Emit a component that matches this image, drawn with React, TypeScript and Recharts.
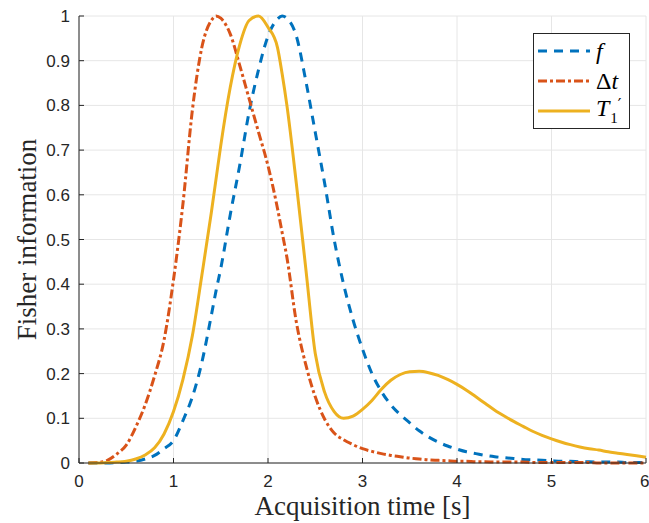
import React from "react";
import {
  LineChart,
  Line,
  XAxis,
  YAxis,
  CartesianGrid,
  Label,
} from "recharts";

// acquisition time [s]
const times = [
  0.1, 0.2, 0.3, 0.4, 0.5, 0.6, 0.7, 0.8, 0.9, 1.0,
  1.1, 1.2, 1.3, 1.4, 1.45, 1.5, 1.6, 1.7, 1.8, 1.9, 2.0,
  2.1, 2.15, 2.2, 2.3, 2.4, 2.5, 2.6, 2.7, 2.8, 2.9, 3.0,
  3.1, 3.2, 3.3, 3.4, 3.5, 3.6, 3.7, 3.8, 3.9, 4.0,
  4.1, 4.2, 4.3, 4.4, 4.5, 4.6, 4.7, 4.8, 4.9, 5.0,
  5.1, 5.2, 5.3, 5.4, 5.5, 5.6, 5.7, 5.8, 5.9, 6.0,
];

// normalised Fisher information, f
const fInfo = [
  0, 0, 0, 0.001, 0.002, 0.004, 0.009, 0.017, 0.032, 0.05,
  0.095, 0.148, 0.225, 0.33, 0.385, 0.435, 0.555, 0.665, 0.785, 0.88, 0.955,
  0.993, 1.0, 0.995, 0.955, 0.855, 0.74, 0.625, 0.5, 0.4, 0.32, 0.255,
  0.2, 0.16, 0.13, 0.108, 0.09, 0.072, 0.058, 0.047, 0.038, 0.031,
  0.025, 0.021, 0.017, 0.014, 0.012, 0.01, 0.008, 0.007, 0.006, 0.005,
  0.004, 0.004, 0.003, 0.003, 0.002, 0.002, 0.002, 0.001, 0.001, 0.001,
];

// Δt
const dtInfo = [
  0, 0.001, 0.006, 0.02, 0.04, 0.08, 0.13, 0.195, 0.275, 0.41,
  0.58, 0.79, 0.93, 0.99, 1.0, 0.995, 0.96, 0.89, 0.815, 0.74, 0.665,
  0.57, 0.515, 0.46, 0.315, 0.22, 0.148, 0.098, 0.067, 0.052, 0.041, 0.032,
  0.026, 0.021, 0.017, 0.014, 0.011, 0.009, 0.007, 0.006, 0.005, 0.004,
  0.004, 0.003, 0.003, 0.002, 0.002, 0.002, 0.002, 0.001, 0.001, 0.001,
  0.001, 0.001, 0.001, 0.001, 0, 0, 0, 0, 0, 0,
];

// T1'
const t1Info = [
  0, 0, 0.001, 0.002, 0.004, 0.009, 0.018, 0.034, 0.065, 0.115,
  0.187, 0.285, 0.42, 0.56, 0.635, 0.71, 0.84, 0.935, 0.99, 1.0, 0.975,
  0.93, 0.87, 0.8, 0.625, 0.435, 0.245, 0.158, 0.115, 0.1, 0.105, 0.12,
  0.14, 0.165, 0.185, 0.198, 0.204, 0.205, 0.202, 0.196, 0.187, 0.176,
  0.163, 0.148, 0.133, 0.118, 0.105, 0.093, 0.082, 0.071, 0.062, 0.054,
  0.047, 0.041, 0.036, 0.032, 0.029, 0.025, 0.022, 0.019, 0.016, 0.013,
];

const xTicks = [0, 1, 2, 3, 4, 5, 6];
const yTicks = [0, 0.1, 0.2, 0.3, 0.4, 0.5, 0.6, 0.7, 0.8, 0.9, 1];

const data = times.map((t, i) => ({
  t,
  f: fInfo[i],
  dt: dtInfo[i],
  t1: t1Info[i],
}));

const BLUE = "#0072BD";
const RED = "#D95319";
const YELLOW = "#EDB120";
const AXIS = "#262626";
const tickFont = { fill: AXIS, fontSize: 17, fontFamily: "Liberation Sans, Arial, sans-serif" };
const labelFont = { fill: AXIS, fontSize: 27, fontFamily: "Liberation Serif, serif" };

function LegendBox() {
  const row = (dash: string | undefined, color: string, label: React.ReactNode) => (
    <div style={{ display: "flex", alignItems: "center", height: 30 }}>
      <svg width={58} height={10}>
        <line x1={4} y1={5} x2={56} y2={5} stroke={color} strokeWidth={3} strokeDasharray={dash} />
      </svg>
      <span style={{ marginLeft: 4, fontFamily: "Liberation Serif, serif", fontSize: 24, color: "#000", lineHeight: "24px", position: "relative" }}>
        {label}
      </span>
    </div>
  );
  return (
    <div
      style={{
        position: "absolute",
        left: 533,
        top: 33,
        border: `1.5px solid ${AXIS}`,
        background: "#fff",
        width: 97,
        padding: "2px 0 2px 0",
        boxSizing: "border-box",
      }}
    >
      {row("9 7", BLUE, <i>f</i>)}
      {row("9 3 3 3", RED, <span>Δ<i>t</i></span>)}
      {row(undefined, YELLOW, (
        <span style={{ position: "relative", top: -2 }}>
          <i>T</i>
          <span style={{ fontSize: 15, position: "relative", top: 7, marginLeft: 1 }}>1</span>
          <span style={{ fontSize: 16, fontFamily: "DejaVu Serif, serif", position: "relative", top: -6 }}>′</span>
        </span>
      ))}
    </div>
  );
}

export default function App() {
  return (
    <div style={{ position: "absolute", left: 0, top: 0, width: 649, height: 523, background: "#fff" }}>
      <LineChart
        width={649}
        height={523}
        data={data}
        margin={{ top: 16, right: 3, bottom: 0, left: 0 }}
      >
        <CartesianGrid stroke="#e6e6e6" strokeWidth={1} />
        <XAxis
          dataKey="t"
          type="number"
          domain={[0, 6]}
          ticks={xTicks}
          height={60}
          stroke={AXIS}
          tickSize={-5}
          tickMargin={17}
          tick={tickFont}
        >
          <Label value="Acquisition time [s]" position="insideBottom" offset={8} style={labelFont} />
        </XAxis>
        <XAxis
          xAxisId="top"
          orientation="top"
          type="number"
          domain={[0, 6]}
          ticks={xTicks}
          height={0}
          stroke={AXIS}
          tickSize={-5}
          tickFormatter={() => ""}
        />
        <YAxis
          type="number"
          domain={[0, 1]}
          ticks={yTicks}
          width={79}
          stroke={AXIS}
          tickSize={-5}
          tickMargin={14}
          tick={tickFont}
        >
          <Label
            value="Fisher information"
            angle={-90}
            position="insideLeft"
            offset={26}
            style={{ ...labelFont, textAnchor: "middle" }}
          />
        </YAxis>
        <YAxis
          yAxisId="right"
          orientation="right"
          type="number"
          domain={[0, 1]}
          ticks={yTicks}
          width={0}
          stroke={AXIS}
          tickSize={-5}
          tickFormatter={() => ""}
        />
        <Line type="monotone" dataKey="f" stroke={BLUE} strokeWidth={3} strokeDasharray="9 7" dot={false} isAnimationActive={false} />
        <Line type="monotone" dataKey="dt" stroke={RED} strokeWidth={3} strokeDasharray="9 3 3 3" dot={false} isAnimationActive={false} />
        <Line type="monotone" dataKey="t1" stroke={YELLOW} strokeWidth={3} dot={false} isAnimationActive={false} />
      </LineChart>
      <LegendBox />
    </div>
  );
}
